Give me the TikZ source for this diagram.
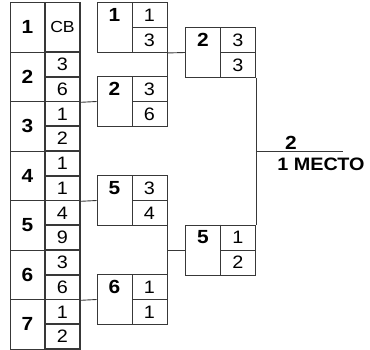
\documentclass[tikz,border=0pt]{standalone}
\usepackage{fontspec}
\setmainfont{Liberation Sans}[FakeStretch=1.1]
\colorlet{ink}{black!78}
\begin{document}
\begin{tikzpicture}[x=1pt,y=-1pt,line width=0.9pt,
    seed/.style={draw=ink, minimum width=35pt, minimum height=49.5pt,
          inner sep=0pt, font=\bfseries\fontsize{19}{19}\selectfont},
    score/.style={draw=ink, line width=1.6pt, minimum width=35pt,
          minimum height=24.75pt, inner sep=0pt, font=\fontsize{18}{18}\selectfont},
    match/.style={draw=ink, minimum width=70pt, minimum height=50pt, inner sep=0pt},
    num/.style={inner sep=0pt, font=\bfseries\fontsize{19}{19}\selectfont},
    pts/.style={inner sep=0pt, font=\fontsize{18}{18}\selectfont}]
    \useasboundingbox (0,0) rectangle (370,350);
    % draw table
    \foreach \k in {1,...,7}
      \node[seed] (s\k) at (27.5,{27.25+49.5*(\k-1)}) {\k};
    \node[score, minimum height=49.5pt, font=\fontsize{16}{16}\selectfont] (t1) at (62.5,27.25) {СВ};
    \foreach \k/\a/\b in {2/3/6,3/1/2,4/1/1,5/4/9,6/3/6,7/1/2} {
      \node[score] (t\k a) at (62.5,{27.25+49.5*(\k-1)-12.375}) {\a};
      \node[score] (t\k b) at (62.5,{27.25+49.5*(\k-1)+12.375}) {\b};
    }
    % games
    \foreach \nm/\x/\y/\n/\a/\b in {m1a/132/27.5/1/1/3, m1b/132/101.5/2/3/6,
        m1c/132/200.5/5/3/4, m1d/132/299.5/6/1/1,
        m2a/220.5/52.5/2/3/3, m2b/220.5/250/5/1/2} {
      \node[match] (\nm) at (\x,\y) {};
      \draw[ink] (\nm.north) -- (\nm.south) (\nm.center) -- (\nm.east);
      \node[num] at ([shift={(-17.5,-12.5)}]\nm.center) {\n};
      \node[pts] at ([shift={(17.5,-12.5)}]\nm.center) {\a};
      \node[pts] at ([shift={(17.5,12.5)}]\nm.center) {\b};
    }
    \draw[ink] (t2b.south east) -- (m1b.west);
    \draw[ink] (t4b.south east) -- (m1c.west);
    \draw[ink] (t6b.south east) -- (m1d.west);
    \draw[ink] (m1a.south east) -- (m1b.north east);
    \draw[ink] (m1a.south east) -- (m2a.west);
    \draw[ink] (m1c.south east) -- (m1d.north east);
    \draw[ink] (m2b.west -| m1c.east) -- (m2b.west);
    \draw[ink] (m2a.south east) -- (m2b.north east);
    % final
    \coordinate (fin) at (343,151.25);
    \draw[ink] (fin -| m2a.east) -- (fin);
    \node[num, anchor=south] (win) at (291,149.5) {2};
    \node[num, anchor=north west, font=\bfseries\fontsize{18}{18}\selectfont] (place) at (277,157) {1 МЕСТО};
\end{tikzpicture}
\end{document}
